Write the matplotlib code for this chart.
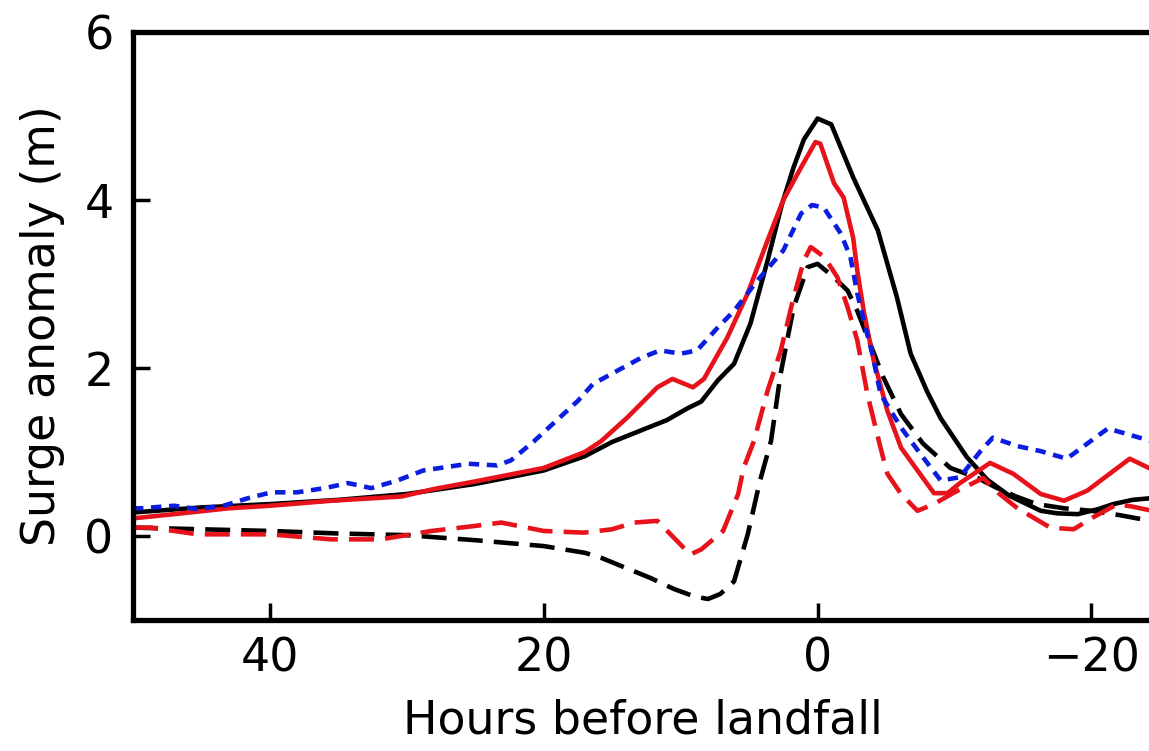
import matplotlib
matplotlib.use("Agg")
import matplotlib.pyplot as plt

# Hours before landfall (x) and surge anomaly in m (y)
black_solid_h = [50, 45, 40, 35, 30, 25, 20, 17, 15, 13, 11, 9.5, 8.5, 7.3, 6.1, 4.9, 3.65, 2.6, 1.75, 1, 0,
                 -1, -2.6, -4.4, -5.8, -6.8, -8, -9, -10.9, -12.4, -14, -16.3, -17.5, -19, -20.5, -21.6, -23, -25]
black_solid_v = [0.28, 0.34, 0.38, 0.43, 0.50, 0.62, 0.78, 0.95, 1.12, 1.25, 1.38, 1.52, 1.60, 1.85, 2.05, 2.53, 3.28, 3.95, 4.39, 4.72, 4.97,
                 4.90, 4.27, 3.64, 2.84, 2.17, 1.72, 1.40, 0.94, 0.67, 0.48, 0.30, 0.27, 0.26, 0.32, 0.38, 0.43, 0.46]

black_dash_h = [50, 45, 40, 35, 30, 25, 20, 17, 15.8, 14, 12.2, 10.5, 9, 8, 7.1, 6.1, 5.1, 4.2, 3.4, 2.7, 1.75, 0.73, 0,
                -1.2, -2.2, -2.9, -4.8, -6.1, -7.7, -9.7, -11.7, -13, -14.5, -16, -18, -20, -22, -25]
black_dash_v = [0.10, 0.08, 0.06, 0.03, 0.01, -0.05, -0.12, -0.20, -0.26, -0.38, -0.50, -0.63, -0.72, -0.75, -0.69, -0.54, 0.02, 0.66, 1.13, 1.93, 2.72, 3.20, 3.24,
                3.08, 2.92, 2.68, 1.89, 1.45, 1.10, 0.81, 0.69, 0.58, 0.47, 0.38, 0.33, 0.30, 0.25, 0.16]

red_solid_h = [50, 47, 43, 40, 35.5, 30.4, 28, 25, 20, 17, 15.8, 13.9, 11.7, 10.6, 9.1, 8.3, 6.6, 5.1, 3.65, 2.5, 1.2, 0.15,
               -0.2, -1.2, -1.9, -2.6, -2.9, -3.4, -4.1, -5.1, -6.1, -7.3, -8.5, -9.5, -10.4, -12.6, -14.3, -16.3, -18, -19.7, -21, -22.8, -24.2, -25]
red_solid_v = [0.21, 0.26, 0.33, 0.36, 0.42, 0.47, 0.56, 0.65, 0.81, 1.00, 1.13, 1.41, 1.77, 1.87, 1.77, 1.87, 2.36, 2.89, 3.52, 4.00, 4.39, 4.69,
               4.67, 4.20, 4.03, 3.55, 3.16, 2.65, 2.09, 1.49, 1.05, 0.78, 0.51, 0.51, 0.63, 0.87, 0.74, 0.50, 0.42, 0.54, 0.70, 0.92, 0.81, 0.75]

red_dash_h = [50, 48.7, 45.3, 40, 35.5, 31.9, 28.2, 25, 23.1, 20, 17.1, 15, 13.4, 11.7, 10.5, 9.3, 8.5, 6.9, 5.8, 5.4, 4.65, 3.65, 2.7, 1.75, 1.0, 0.5,
              -0.5, -1.45, -2.2, -2.9, -3.65, -4.6, -5.1, -6.1, -7.3, -8.5, -10, -12.1, -13.3, -14.6, -17, -18.7, -20.1, -21.9, -23, -25]
red_dash_v = [0.10, 0.10, 0.02, 0.02, -0.04, -0.04, 0.06, 0.12, 0.16, 0.06, 0.04, 0.08, 0.16, 0.18, -0.02, -0.22, -0.16, 0.06, 0.50, 0.81, 1.13, 1.73, 2.20, 2.84, 3.28, 3.44,
              3.32, 3.08, 2.72, 2.33, 1.68, 1.05, 0.74, 0.50, 0.30, 0.38, 0.52, 0.69, 0.50, 0.33, 0.10, 0.08, 0.22, 0.38, 0.35, 0.28]

blue_h = [50, 49.4, 47, 45.3, 43.4, 41.6, 39.9, 38, 36, 34.3, 32.6, 30.7, 28.8, 25.5, 23.4, 22.4, 20.7, 19.3, 17.5, 16.4, 14.6, 12.9, 11.5, 10, 8.8, 7.3, 6.1, 4.4, 2.5, 1.2, 0.4,
          -0.45, -1.7, -2.4, -2.9, -3.5, -4, -4.6, -6.1, -7.5, -9, -10.4, -11.9, -12.8, -14.6, -16.3, -18.2, -19.7, -21.2, -23.1, -25]
blue_v = [0.33, 0.33, 0.36, 0.32, 0.36, 0.45, 0.52, 0.52, 0.57, 0.63, 0.57, 0.66, 0.78, 0.86, 0.84, 0.90, 1.13, 1.34, 1.61, 1.81, 1.97, 2.12, 2.21, 2.17, 2.21, 2.48, 2.68, 3.04, 3.40, 3.84, 3.94,
          3.91, 3.60, 3.32, 2.89, 2.48, 2.17, 1.69, 1.29, 0.98, 0.66, 0.70, 1.01, 1.17, 1.07, 1.01, 0.92, 1.10, 1.28, 1.19, 1.10]

x_ticks = [40, 20, 0, -20]
y_ticks = [0, 2, 4, 6]

plt.rcParams["font.family"] = "DejaVu Sans"
plt.rcParams["font.size"] = 33
plt.rcParams["lines.scale_dashes"] = False

fig = plt.figure(figsize=(11.49, 7.51), dpi=100)
ax = fig.add_axes([133 / 1149, 131 / 751, 1020 / 1149, 588 / 751])

lw = 3.3
ax.plot(black_solid_h, black_solid_v, color="black", lw=lw)
ax.plot(black_dash_h, black_dash_v, color="black", lw=lw, dashes=(18, 8))
ax.plot(red_solid_h, red_solid_v, color="#e8121b", lw=lw)
ax.plot(red_dash_h, red_dash_v, color="#e8121b", lw=lw, dashes=(18, 8))
ax.plot(blue_h, blue_v, color="#0b1ee0", lw=lw, dashes=(7.5, 5.5))

ax.set_xlim(50, -24.5)
ax.set_ylim(-1, 6)
ax.set_xticks(x_ticks)
ax.set_yticks(y_ticks)

for sp in ax.spines.values():
    sp.set_linewidth(3.8)

ax.tick_params(direction="in", length=12, width=2.5)
ax.tick_params(axis="x", pad=12)
ax.tick_params(axis="y", pad=14)

ax.set_xlabel("Hours before landfall", labelpad=12)
ax.set_ylabel("Surge anomaly (m)", labelpad=14)

fig.savefig("out.png", dpi=100)
